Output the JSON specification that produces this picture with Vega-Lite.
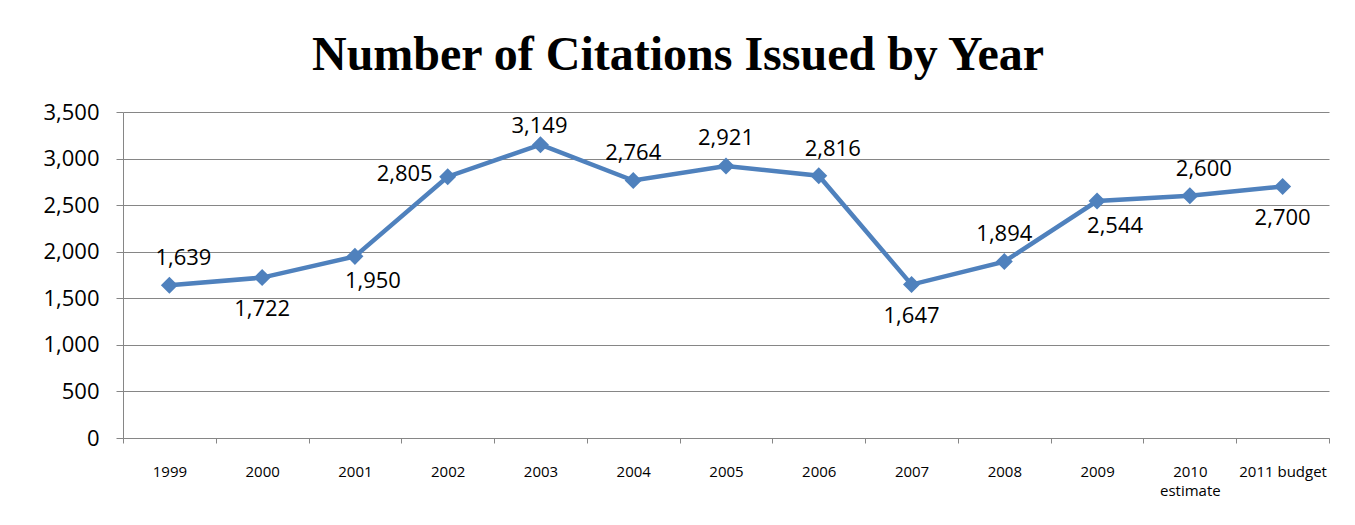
{
  "$schema": "https://vega.github.io/schema/vega-lite/v6.json",
  "autosize": "none",
  "width": 1206,
  "height": 326,
  "padding": {"left": 123, "top": 112, "right": 26, "bottom": 87},
  "background": "white",
  "config": {
    "font": "Open Sans",
    "view": {"stroke": null}
  },
  "title": {
    "text": "Number of Citations Issued by Year",
    "font": "Liberation Serif",
    "fontSize": 48,
    "fontWeight": "bold",
    "color": "black",
    "anchor": "middle",
    "baseline": "alphabetic",
    "offset": 40,
    "dx": -48,
    "dy": 57
  },
  "data": {
    "values": [
      {"year": "1999", "citations": 1639},
      {"year": "2000", "citations": 1722},
      {"year": "2001", "citations": 1950},
      {"year": "2002", "citations": 2805},
      {"year": "2003", "citations": 3149},
      {"year": "2004", "citations": 2764},
      {"year": "2005", "citations": 2921},
      {"year": "2006", "citations": 2816},
      {"year": "2007", "citations": 1647},
      {"year": "2008", "citations": 1894},
      {"year": "2009", "citations": 2544},
      {"year": "2010 estimate", "citations": 2600},
      {"year": "2011 budget", "citations": 2700}
    ]
  },
  "encoding": {
    "x": {
      "field": "year",
      "type": "nominal",
      "sort": null,
      "scale": {"paddingInner": 0, "paddingOuter": 0},
      "axis": {
        "title": null,
        "labelAngle": 0,
        "tickBand": "extent",
        "domainColor": "#868686",
        "tickColor": "#868686",
        "tickSize": 5,
        "labelPadding": 21,
        "labelFontSize": 15,
        "labelColor": "black",
        "labelBaseline": "top",
        "labelLineHeight": 19,
        "labelExpr": "datum.value == '2010 estimate' ? ['2010', 'estimate'] : datum.label"
      }
    },
    "y": {
      "field": "citations",
      "type": "quantitative",
      "scale": {"domain": [0, 3500]},
      "axis": {
        "title": null,
        "values": [0, 500, 1000, 1500, 2000, 2500, 3000, 3500],
        "format": ",d",
        "domainColor": "#868686",
        "tickColor": "#868686",
        "gridColor": "#868686",
        "gridOpacity": 1,
        "tickSize": 7,
        "labelPadding": 17,
        "labelFontSize": 22,
        "labelColor": "black"
      }
    }
  },
  "layer": [
    {
      "mark": {"type": "line", "color": "#4F81BD", "strokeWidth": 4.5}
    },
    {
      "mark": {"type": "point", "shape": "diamond", "filled": true, "color": "#4F81BD", "opacity": 1, "size": 290}
    },
    {
      "transform": [{"filter": {"field": "year", "oneOf": ["2004", "2005", "2008"]}}],
      "mark": {"type": "text", "fontSize": 22, "color": "black", "baseline": "middle", "dx": 0, "dy": -28},
      "encoding": {"text": {"field": "citations", "type": "quantitative", "format": ",d"}}
    },
    {
      "transform": [{"filter": {"field": "year", "oneOf": ["2003"]}}],
      "mark": {"type": "text", "fontSize": 22, "color": "black", "baseline": "middle", "dx": -1, "dy": -19},
      "encoding": {"text": {"field": "citations", "type": "quantitative", "format": ",d"}}
    },
    {
      "transform": [{"filter": {"field": "year", "oneOf": ["1999", "2006", "2010 estimate"]}}],
      "mark": {"type": "text", "fontSize": 22, "color": "black", "baseline": "middle", "dx": 14, "dy": -27},
      "encoding": {"text": {"field": "citations", "type": "quantitative", "format": ",d"}}
    },
    {
      "transform": [{"filter": {"field": "year", "oneOf": ["2000", "2007", "2011 budget"]}}],
      "mark": {"type": "text", "fontSize": 22, "color": "black", "baseline": "middle", "dx": 0, "dy": 31},
      "encoding": {"text": {"field": "citations", "type": "quantitative", "format": ",d"}}
    },
    {
      "transform": [{"filter": {"field": "year", "oneOf": ["2001", "2009"]}}],
      "mark": {"type": "text", "fontSize": 22, "color": "black", "baseline": "middle", "dx": 18, "dy": 25},
      "encoding": {"text": {"field": "citations", "type": "quantitative", "format": ",d"}}
    },
    {
      "transform": [{"filter": {"field": "year", "oneOf": ["2002"]}}],
      "mark": {"type": "text", "fontSize": 22, "color": "black", "baseline": "middle", "dx": -43, "dy": -3},
      "encoding": {"text": {"field": "citations", "type": "quantitative", "format": ",d"}}
    }
  ]
}
